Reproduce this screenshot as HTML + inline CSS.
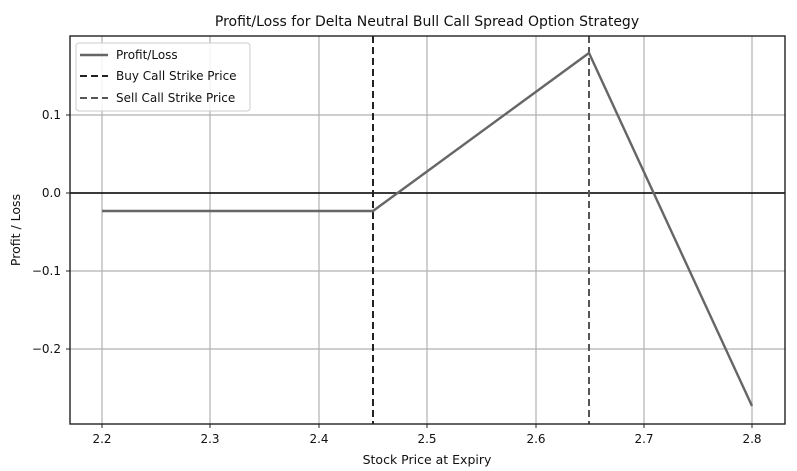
<!DOCTYPE html>
<html><head><style>body{margin:0;background:#fff}svg{display:block}text{font-family:"DejaVu Sans","Liberation Sans",sans-serif;fill:#111}</style></head><body>
<svg width="797" height="471" xmlns="http://www.w3.org/2000/svg">
<rect width="797" height="471" fill="#fff"/>
<g stroke="#b0b0b0" stroke-width="1.2">
<line x1="102" y1="36" x2="102" y2="424"/><line x1="210" y1="36" x2="210" y2="424"/><line x1="319" y1="36" x2="319" y2="424"/><line x1="427" y1="36" x2="427" y2="424"/><line x1="536" y1="36" x2="536" y2="424"/><line x1="644" y1="36" x2="644" y2="424"/><line x1="752" y1="36" x2="752" y2="424"/>
<line x1="70" y1="115" x2="785" y2="115"/><line x1="70" y1="193" x2="785" y2="193"/><line x1="70" y1="271" x2="785" y2="271"/><line x1="70" y1="349" x2="785" y2="349"/>
</g>
<line x1="70" y1="193" x2="785" y2="193" stroke="#000" stroke-width="1.6"/>
<line x1="373" y1="36" x2="373" y2="424" stroke="#222" stroke-width="2" stroke-dasharray="7,4"/>
<line x1="589" y1="36" x2="589" y2="424" stroke="#555" stroke-width="2" stroke-dasharray="7,4"/>
<polyline points="102,211 373,211 589,53 752,406" fill="none" stroke="#666" stroke-width="2.4"/>
<rect x="70" y="36" width="715" height="388" fill="none" stroke="#222" stroke-width="1.4"/>
<g font-size="12" text-anchor="end">
<text x="61" y="119">0.1</text><text x="61" y="197">0.0</text><text x="61" y="275">−0.1</text><text x="61" y="353">−0.2</text>
</g>
<g stroke="#222"><line x1="66" y1="115" x2="70" y2="115"/><line x1="66" y1="193" x2="70" y2="193"/><line x1="66" y1="271" x2="70" y2="271"/><line x1="66" y1="349" x2="70" y2="349"/>
<line x1="102" y1="424" x2="102" y2="428"/><line x1="210" y1="424" x2="210" y2="428"/><line x1="319" y1="424" x2="319" y2="428"/><line x1="427" y1="424" x2="427" y2="428"/><line x1="536" y1="424" x2="536" y2="428"/><line x1="644" y1="424" x2="644" y2="428"/><line x1="752" y1="424" x2="752" y2="428"/></g>
<g font-size="12" text-anchor="middle">
<text x="102" y="443">2.2</text><text x="210" y="443">2.3</text><text x="319" y="443">2.4</text><text x="427" y="443">2.5</text><text x="536" y="443">2.6</text><text x="644" y="443">2.7</text><text x="752" y="443">2.8</text>
</g>
<text x="427" y="464" font-size="12.5" text-anchor="middle">Stock Price at Expiry</text>
<text transform="translate(20,230) rotate(-90)" font-size="12.5" text-anchor="middle">Profit / Loss</text>
<text x="427" y="26" font-size="14" text-anchor="middle">Profit/Loss for Delta Neutral Bull Call Spread Option Strategy</text>
<rect x="76" y="43" width="174" height="68" rx="3" fill="#fff" fill-opacity="0.85" stroke="#ccc"/>
<line x1="80" y1="55" x2="108" y2="55" stroke="#666" stroke-width="2.4"/>
<line x1="80" y1="76" x2="108" y2="76" stroke="#222" stroke-width="2" stroke-dasharray="7,4"/>
<line x1="80" y1="98" x2="108" y2="98" stroke="#555" stroke-width="2" stroke-dasharray="7,4"/>
<g font-size="12"><text x="116" y="59">Profit/Loss</text><text x="116" y="80">Buy Call Strike Price</text><text x="116" y="102">Sell Call Strike Price</text></g>
</svg>
</body></html>
